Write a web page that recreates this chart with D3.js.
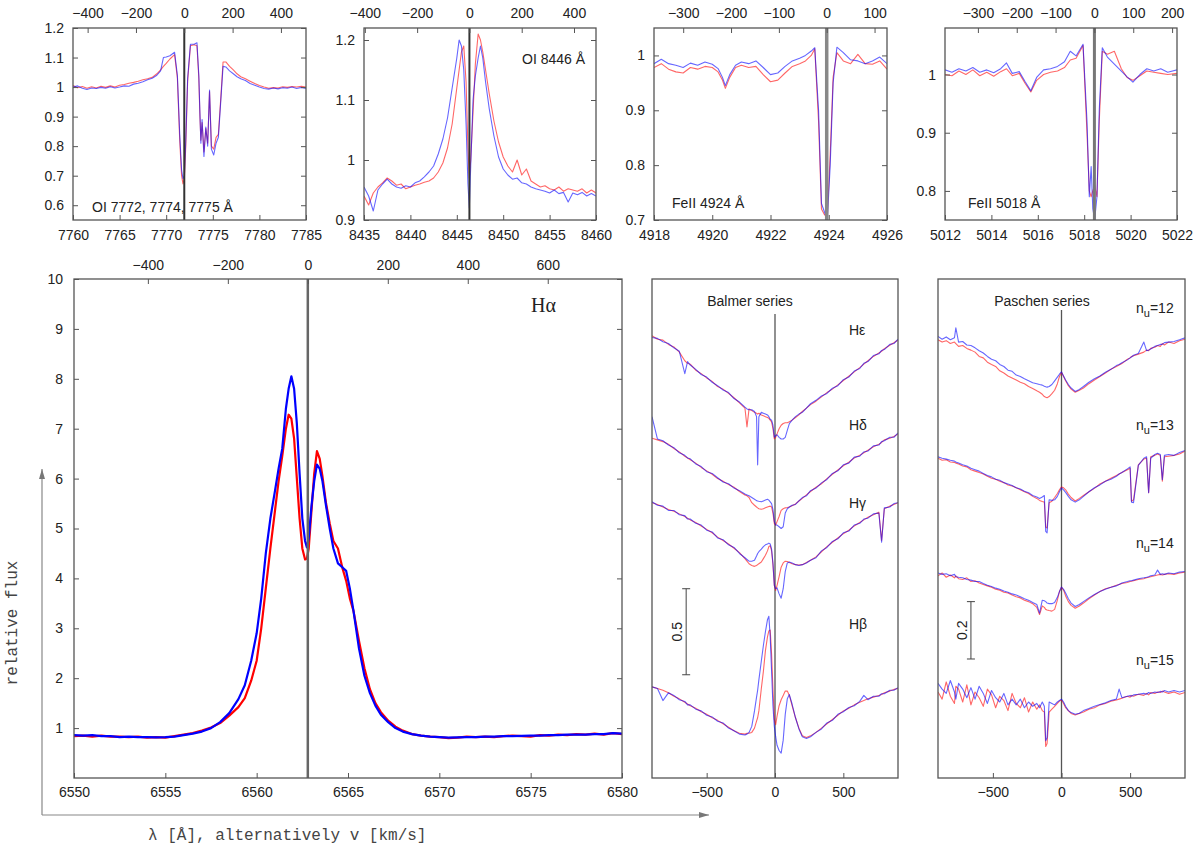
<!DOCTYPE html>
<html>
<head>
<meta charset="utf-8">
<script src="https://cdn.jsdelivr.net/npm/d3@7"></script>
<style>
  body { margin: 0; background: #fff; }
  svg text { font-family: "Liberation Sans", Arial, sans-serif; fill: #222; }
</style>
</head>
<body>
<svg id="fig" width="1200" height="848"></svg>
<script>
/********** the Data **********/
const C_KMS = 299792.458;

// OI 7772 triplet
const oiTripW = [7760, 7760.5, 7761, 7761.5, 7762, 7762.5, 7763, 7763.5, 7764, 7764.5,
  7765, 7765.5, 7766, 7766.5, 7767, 7767.5, 7768, 7768.5, 7769, 7769.4,
  7769.7, 7770, 7770.4, 7770.9, 7771.2, 7771.45, 7771.65, 7771.8, 7771.95, 7772.1,
  7772.3, 7772.6, 7773.0, 7773.3, 7773.5, 7773.62, 7773.72, 7773.85, 7774.05, 7774.25,
  7774.45, 7774.65, 7774.85, 7775.1, 7775.35, 7775.6, 7775.85, 7776.1, 7776.4, 7776.8,
  7777.2, 7777.6, 7778, 7778.5, 7779, 7779.5, 7780, 7780.5, 7781, 7781.5,
  7782, 7782.5, 7783, 7783.5, 7784, 7784.5, 7785];
const oiTripRed = [1.005, 0.998, 1.002, 0.996, 1.001, 0.997, 1.003, 0.999, 1.004, 1.0,
  1.006, 1.009, 1.013, 1.016, 1.02, 1.025, 1.028, 1.033, 1.045, 1.058,
  1.07, 1.08, 1.095, 1.11, 1.03, 0.82, 0.7, 0.672, 0.69, 0.8,
  1.02, 1.14, 1.143, 1.14, 1.03, 0.9, 0.82, 0.88, 0.78, 0.86,
  0.81, 0.985, 0.8, 0.79, 0.83, 0.84, 0.96, 1.085, 1.085, 1.07,
  1.058, 1.045, 1.035, 1.028, 1.02, 1.012, 1.005, 1.0, 0.996, 0.998,
  0.997, 1.001, 0.999, 1.002, 1.0, 1.003, 1.0];
const oiTripBlue = [1.0, 1.004, 0.996, 0.992, 0.997, 0.995, 0.999, 0.996, 1.001, 0.997,
  1.0, 1.004, 1.003, 1.01, 1.013, 1.018, 1.025, 1.03, 1.04, 1.055,
  1.1, 1.102, 1.106, 1.118, 1.04, 0.84, 0.72, 0.69, 0.7, 0.82,
  1.03, 1.145, 1.145, 1.15, 1.04, 0.91, 0.81, 0.89, 0.765, 0.865,
  0.8, 0.99, 0.79, 0.77, 0.81, 0.83, 0.95, 1.07, 1.068, 1.055,
  1.045, 1.035, 1.028, 1.022, 1.012, 1.006, 1.0, 0.995, 0.993, 0.997,
  0.994, 0.998, 0.996, 1.0, 0.995, 0.999, 0.995];

// OI 8446
const oi8446W = [8435, 8435.5, 8436, 8436.5, 8437, 8437.5, 8438, 8438.5, 8439, 8439.5,
  8440, 8440.5, 8441, 8441.5, 8442, 8442.5, 8443, 8443.5, 8444, 8444.5,
  8445, 8445.25, 8445.5, 8445.75, 8446.0, 8446.2, 8446.35, 8446.5, 8446.75, 8447.0,
  8447.3, 8447.55, 8447.8, 8448.1, 8448.5, 8449, 8449.5, 8450, 8450.5, 8451,
  8451.5, 8452, 8452.5, 8453, 8453.5, 8454, 8454.5, 8455, 8455.5, 8456,
  8456.5, 8457, 8457.5, 8458, 8458.5, 8459, 8459.5, 8460];
const oi8446Red = [0.94, 0.925, 0.945, 0.955, 0.962, 0.97, 0.965, 0.958, 0.96, 0.952,
  0.955, 0.958, 0.96, 0.963, 0.965, 0.97, 0.98, 0.995, 1.02, 1.06,
  1.12, 1.15, 1.18, 1.19, 1.13, 1.02, 0.97, 1.0, 1.08, 1.16,
  1.21, 1.2, 1.18, 1.15, 1.11, 1.065, 1.03, 1.005, 0.99, 0.98,
  1.0, 0.975, 0.985, 0.965, 0.96, 0.955, 0.957, 0.952, 0.95, 0.955,
  0.948, 0.952, 0.95, 0.948, 0.952, 0.945, 0.95, 0.945];
const oi8446Blue = [0.955, 0.94, 0.915, 0.95, 0.96, 0.968, 0.96, 0.955, 0.953, 0.957,
  0.955, 0.962, 0.965, 0.972, 0.98, 0.99, 1.01, 1.035, 1.07, 1.12,
  1.17, 1.2, 1.19, 1.15, 1.06, 0.96, 0.92, 0.99, 1.1, 1.14,
  1.17, 1.19, 1.17, 1.13, 1.085, 1.04, 1.005, 0.985, 0.975, 0.968,
  0.97, 0.962, 0.96, 0.955, 0.952, 0.95, 0.948, 0.945, 0.95, 0.944,
  0.946, 0.93, 0.945, 0.942, 0.946, 0.94, 0.944, 0.94];

// FeII 4924
const fe4924W = [4918, 4918.25, 4918.5, 4918.75, 4919, 4919.25, 4919.5, 4919.75, 4920, 4920.2,
  4920.35, 4920.45, 4920.6, 4920.8, 4921, 4921.25, 4921.5, 4921.75, 4922, 4922.25,
  4922.5, 4922.75, 4923, 4923.2, 4923.4, 4923.52, 4923.65, 4923.75, 4923.85, 4923.95,
  4924.05, 4924.15, 4924.28, 4924.5, 4924.75, 4925, 4925.25, 4925.5, 4925.75, 4926];
const fe4924Red = [0.978, 0.985, 0.975, 0.97, 0.968, 0.978, 0.975, 0.98, 0.978, 0.97,
  0.955, 0.94, 0.96, 0.978, 0.982, 0.978, 0.98, 0.965, 0.952, 0.955,
  0.968, 0.98, 0.985, 0.99, 1.0, 1.012, 0.88, 0.72, 0.71, 0.705,
  0.82, 0.96, 1.005, 0.99, 0.985, 1.002, 0.985, 0.984, 0.99, 0.975];
const fe4924Blue = [0.985, 0.993, 0.985, 0.982, 0.978, 0.986, 0.982, 0.988, 0.984, 0.976,
  0.96, 0.945, 0.965, 0.982, 0.988, 0.985, 0.99, 0.978, 0.965, 0.968,
  0.98, 0.99, 0.995, 1.0, 1.008, 1.014, 0.9, 0.73, 0.715, 0.7,
  0.8, 0.95, 1.015, 1.005, 0.992, 0.99, 0.985, 0.99, 0.997, 0.985];

// FeII 5018
const fe5018W = [5012, 5012.3, 5012.6, 5012.9, 5013.2, 5013.5, 5013.8, 5014.1, 5014.4, 5014.65,
  5014.9, 5015.2, 5015.45, 5015.7, 5015.95, 5016.25, 5016.55, 5016.85, 5017.15, 5017.4,
  5017.65, 5017.95, 5018.12, 5018.22, 5018.3, 5018.37, 5018.45, 5018.55, 5018.65, 5018.78,
  5019.0, 5019.3, 5019.6, 5019.85, 5020.1, 5020.4, 5020.7, 5021.0, 5021.3, 5021.6,
  5022];
const fe5018Red = [1.0, 0.998, 1.006, 1.0, 1.008, 0.998, 1.004, 0.997, 1.005, 1.01,
  0.998, 1.002, 0.985, 0.97, 0.99, 1.0, 1.004, 1.006, 1.012, 1.025,
  1.028, 1.05, 0.9, 0.8, 0.79, 0.8, 0.81, 0.79, 0.92, 1.04,
  1.035, 1.04, 1.01, 0.995, 0.99, 0.998, 1.006, 1.004, 1.002, 1.0,
  1.002];
const fe5018Blue = [1.008, 1.004, 1.01, 1.006, 1.012, 1.004, 1.008, 1.003, 1.01, 1.02,
  1.002, 1.005, 0.988, 0.972, 0.995, 1.008, 1.01, 1.014, 1.022, 1.04,
  1.032, 1.052, 0.92, 0.79, 0.842, 0.77, 0.75, 0.79, 0.94, 1.046,
  1.03, 1.018, 1.006, 0.996, 0.987, 1.0, 1.01, 1.006, 1.01, 1.004,
  1.008];

// H alpha
const haW = [6550, 6550.5, 6551, 6551.5, 6552, 6552.5, 6553, 6553.5, 6554, 6554.5,
  6555, 6555.5, 6556, 6556.5, 6557, 6557.5, 6558, 6558.5, 6559, 6559.35,
  6559.7, 6560.0, 6560.25, 6560.5, 6560.75, 6561.0, 6561.2, 6561.4, 6561.6, 6561.75,
  6561.9, 6562.05, 6562.2, 6562.35, 6562.5, 6562.65, 6562.75, 6562.85, 6563.0, 6563.15,
  6563.3, 6563.45, 6563.6, 6563.8, 6564.0, 6564.2, 6564.45, 6564.7, 6564.9, 6565.1,
  6565.3, 6565.6, 6565.9, 6566.2, 6566.5, 6566.8, 6567.2, 6567.6, 6568.0, 6568.5,
  6569, 6569.5, 6570, 6570.5, 6571, 6571.5, 6572, 6572.5, 6573, 6573.5,
  6574, 6574.5, 6575, 6575.5, 6576, 6576.5, 6577, 6577.5, 6578, 6578.5,
  6579, 6579.5, 6580];
const haRed = [0.84, 0.85, 0.83, 0.85, 0.83, 0.83, 0.82, 0.83, 0.81, 0.82,
  0.81, 0.84, 0.87, 0.9, 0.95, 1.01, 1.1, 1.25, 1.42, 1.6,
  1.95, 2.35, 3.0, 3.8, 4.6, 5.35, 5.95, 6.45, 7.0, 7.28,
  7.2, 6.8, 6.0, 5.2, 4.6, 4.38, 4.4, 4.6, 5.35, 6.1,
  6.55, 6.4, 6.05, 5.5, 5.1, 4.75, 4.6, 4.2, 3.95, 3.6,
  3.35, 2.75, 2.2, 1.78, 1.5, 1.32, 1.15, 1.03, 0.95, 0.88,
  0.85, 0.83, 0.82, 0.8, 0.81, 0.83, 0.82, 0.83, 0.82, 0.84,
  0.85, 0.84, 0.83, 0.86, 0.85, 0.87, 0.86, 0.88, 0.87, 0.89,
  0.87, 0.9, 0.88];
const haBlue = [0.86, 0.85, 0.86, 0.84, 0.84, 0.82, 0.83, 0.82, 0.82, 0.815,
  0.82, 0.83, 0.86, 0.89, 0.93, 1.0, 1.12, 1.3, 1.58, 1.86,
  2.35, 2.9, 3.6, 4.5, 5.2, 5.75, 6.2, 6.6, 7.4, 7.8,
  8.05, 7.8, 7.1, 6.1, 5.2, 4.75, 4.62, 4.8, 5.45, 5.95,
  6.28, 6.2, 5.95, 5.45, 5.0, 4.6, 4.3, 4.22, 4.15, 3.8,
  3.35, 2.6, 2.05, 1.7, 1.45, 1.27, 1.12, 1.0, 0.93, 0.88,
  0.85, 0.83, 0.82, 0.81, 0.815, 0.82, 0.82, 0.83, 0.83, 0.84,
  0.84, 0.845, 0.85, 0.85, 0.86, 0.86, 0.87, 0.87, 0.87, 0.88,
  0.88, 0.9, 0.89];

// Balmer series, velocity grid (km/s) and relative flux
const balmerV = [-900, -860, -820, -780, -740, -700, -660, -640, -620, -580,
  -540, -500, -460, -420, -380, -340, -300, -260, -220, -205,
  -190, -170, -150, -135, -127, -118, -100, -85, -70, -55,
  -45, -35, -25, -15, -5, 5, 15, 30, 45, 60,
  75, 90, 105, 125, 150, 175, 200, 230, 260, 300,
  340, 380, 420, 460, 500, 540, 580, 620, 650, 680,
  720, 760, 780, 800, 840, 870, 900];
const balmerNames = ["Hε", "Hδ", "Hγ", "Hβ"];
const balmerOffsets = [1.55, 1.0, 0.6, -0.48];
const balmerRed = [
  [1.02, 1.0, 0.995, 0.97, 0.955, 0.925, 0.875, 0.86, 0.855, 0.82,
   0.8, 0.775, 0.755, 0.725, 0.71, 0.685, 0.66, 0.63, 0.6, 0.49,
   0.595, 0.585, 0.575, 0.57, 0.565, 0.57, 0.56, 0.555, 0.55, 0.545,
   0.54, 0.53, 0.52, 0.48, 0.42, 0.43, 0.45, 0.48, 0.5, 0.51,
   0.515, 0.515, 0.52, 0.53, 0.545, 0.56, 0.58, 0.6, 0.62, 0.64,
   0.665, 0.69, 0.71, 0.735, 0.76, 0.785, 0.81, 0.835, 0.855, 0.875,
   0.9, 0.92, 0.93, 0.945, 0.965, 0.98, 0.995],
  [0.975, 0.965, 0.955, 0.94, 0.915, 0.895, 0.87, 0.86, 0.85, 0.83,
   0.805, 0.785, 0.765, 0.74, 0.725, 0.705, 0.69, 0.665, 0.645, 0.64,
   0.63, 0.6, 0.585, 0.575, 0.57, 0.565, 0.562, 0.565, 0.57, 0.575,
   0.578, 0.58, 0.575, 0.54, 0.48, 0.47, 0.49, 0.52, 0.555, 0.565,
   0.57, 0.572, 0.575, 0.582, 0.593, 0.61, 0.625, 0.645, 0.665, 0.69,
   0.71, 0.74, 0.765, 0.79, 0.815, 0.835, 0.86, 0.875, 0.89, 0.905,
   0.925, 0.94, 0.95, 0.965, 0.975, 0.985, 1.0],
  [1.0, 0.99, 0.975, 0.96, 0.95, 0.935, 0.92, 0.91, 0.9, 0.885,
   0.865, 0.845, 0.825, 0.8, 0.78, 0.76, 0.735, 0.71, 0.675, 0.66,
   0.645, 0.635, 0.63, 0.635, 0.64, 0.645, 0.655, 0.675, 0.695, 0.72,
   0.745, 0.75, 0.72, 0.64, 0.52, 0.49, 0.52, 0.57, 0.625, 0.65,
   0.66, 0.658, 0.652, 0.645, 0.64, 0.638, 0.64, 0.652, 0.665, 0.685,
   0.715, 0.745, 0.77, 0.795, 0.82, 0.84, 0.865, 0.885, 0.9, 0.915,
   0.93, 0.945, 0.78, 0.965, 0.98, 0.99, 1.0],
  [1.01, 1.0, 0.99, 0.975, 0.955, 0.94, 0.92, 0.91, 0.9, 0.885,
   0.865, 0.85, 0.83, 0.815, 0.795, 0.775, 0.755, 0.74, 0.735, 0.74,
   0.74, 0.745, 0.77, 0.81, 0.83, 0.87, 1.0, 1.1, 1.22, 1.3,
   1.335, 1.34, 1.2, 1.0, 0.82, 0.79, 0.84, 0.9, 0.935, 0.96,
   0.985, 0.985, 0.96, 0.9, 0.83, 0.77, 0.725, 0.715, 0.725, 0.745,
   0.77, 0.795, 0.82, 0.845, 0.87, 0.885, 0.905, 0.92, 0.93, 0.94,
   0.95, 0.96, 0.965, 0.975, 0.985, 0.995, 1.0]
];
const balmerBlue = [
  [1.01, 1.005, 0.985, 0.975, 0.95, 0.93, 0.8, 0.87, 0.85, 0.825,
   0.795, 0.78, 0.75, 0.73, 0.705, 0.69, 0.655, 0.635, 0.605, 0.595,
   0.59, 0.59, 0.58, 0.55, 0.27, 0.55, 0.575, 0.57, 0.565, 0.56,
   0.55, 0.535, 0.53, 0.5, 0.43, 0.44, 0.445, 0.43, 0.42, 0.42,
   0.43, 0.47, 0.51, 0.53, 0.55, 0.565, 0.575, 0.6, 0.625, 0.645,
   0.67, 0.685, 0.715, 0.73, 0.765, 0.78, 0.815, 0.83, 0.86, 0.87,
   0.905, 0.915, 0.935, 0.94, 0.97, 0.975, 1.0],
  [1.1, 0.97, 0.96, 0.935, 0.92, 0.89, 0.875, 0.86, 0.855, 0.825,
   0.81, 0.78, 0.77, 0.745, 0.72, 0.71, 0.685, 0.67, 0.65, 0.645,
   0.64, 0.63, 0.62, 0.612, 0.61, 0.608, 0.605, 0.61, 0.615, 0.62,
   0.615, 0.605, 0.595, 0.56, 0.49, 0.47, 0.47, 0.46, 0.45, 0.46,
   0.54, 0.565, 0.575, 0.585, 0.59, 0.61, 0.63, 0.64, 0.67, 0.685,
   0.715, 0.735, 0.77, 0.785, 0.82, 0.83, 0.865, 0.87, 0.895, 0.9,
   0.93, 0.935, 0.955, 0.96, 0.98, 0.98, 1.005],
  [1.005, 0.985, 0.98, 0.955, 0.955, 0.93, 0.925, 0.905, 0.905, 0.88,
   0.87, 0.84, 0.83, 0.795, 0.785, 0.755, 0.74, 0.705, 0.68, 0.67,
   0.66, 0.66, 0.665, 0.69, 0.705, 0.715, 0.73, 0.745, 0.755, 0.76,
   0.765, 0.76, 0.73, 0.65, 0.52, 0.5, 0.505, 0.47, 0.445, 0.5,
   0.6, 0.65, 0.655, 0.65, 0.64, 0.635, 0.64, 0.65, 0.665, 0.68,
   0.72, 0.74, 0.775, 0.79, 0.825, 0.835, 0.87, 0.88, 0.905, 0.91,
   0.935, 0.94, 0.77, 0.97, 0.975, 0.995, 1.0],
  [1.01, 1.0, 0.93, 0.975, 0.96, 0.935, 0.925, 0.905, 0.905, 0.88,
   0.87, 0.845, 0.835, 0.81, 0.8, 0.77, 0.755, 0.735, 0.73, 0.735,
   0.745, 0.78, 0.87, 0.95, 0.99, 1.05, 1.16, 1.25, 1.33, 1.4,
   1.42, 1.3, 1.1, 0.9, 0.78, 0.72, 0.67, 0.64, 0.625, 0.7,
   0.85, 0.94, 0.965, 0.91, 0.83, 0.765, 0.72, 0.71, 0.72, 0.745,
   0.765, 0.8, 0.815, 0.85, 0.865, 0.89, 0.9, 0.925, 0.96, 0.935,
   0.955, 0.955, 0.97, 0.97, 0.99, 0.99, 1.005]
];

// Paschen series, velocity grid (km/s) and relative flux
const paschenV = [-900, -870, -840, -810, -780, -770, -750, -720, -690, -660,
  -630, -600, -570, -540, -510, -480, -450, -420, -390, -360,
  -330, -300, -270, -240, -210, -180, -160, -140, -125, -115,
  -105, -90, -70, -50, -30, -15, 0, 15, 30, 50,
  70, 100, 130, 160, 200, 240, 280, 320, 360, 400,
  420, 440, 480, 500, 510, 525, 560, 600, 620, 635,
  650, 680, 700, 720, 735, 750, 780, 820, 860, 900];
const paschenNames = ["12", "13", "14", "15"];
const paschenOffsets = [0.53, 0.13, -0.28, -0.69];
const paschenRed = [
  [0.998, 0.99, 0.995, 0.985, 0.99, 0.985, 0.975, 0.978, 0.968, 0.962,
   0.955, 0.94, 0.935, 0.92, 0.912, 0.905, 0.89, 0.882, 0.872, 0.865,
   0.858, 0.85, 0.845, 0.835, 0.828, 0.82, 0.815, 0.808, 0.8, 0.798,
   0.796, 0.8, 0.81, 0.822, 0.845, 0.87, 0.885, 0.87, 0.855, 0.838,
   0.826, 0.815, 0.822, 0.83, 0.845, 0.858, 0.87, 0.882, 0.895, 0.905,
   0.91, 0.915, 0.93, 0.935, 0.94, 0.942, 0.948, 0.955, 0.962, 0.96,
   0.968, 0.972, 0.978, 0.975, 0.985, 0.98, 0.99, 0.985, 0.995, 1.0],
  [0.985, 0.978, 0.98, 0.972, 0.97, 0.968, 0.965, 0.958, 0.955, 0.945,
   0.94, 0.935, 0.93, 0.922, 0.915, 0.912, 0.905, 0.9, 0.892, 0.888,
   0.882, 0.875, 0.868, 0.862, 0.852, 0.845, 0.838, 0.834, 0.832, 0.745,
   0.742, 0.83, 0.835, 0.848, 0.862, 0.875, 0.885, 0.882, 0.875, 0.86,
   0.848, 0.836, 0.845, 0.855, 0.868, 0.88, 0.895, 0.905, 0.915, 0.925,
   0.93, 0.935, 0.945, 0.95, 0.835, 0.84, 0.962, 0.982, 0.985, 0.865,
   0.99, 0.995, 1.0, 0.995, 0.905, 0.99, 0.992, 0.995, 1.0, 1.01],
  [0.985, 0.995, 0.98, 0.988, 0.978, 0.985, 0.975, 0.972, 0.978, 0.965,
   0.968, 0.96, 0.955, 0.95, 0.945, 0.938, 0.935, 0.928, 0.925, 0.918,
   0.912, 0.908, 0.9, 0.895, 0.888, 0.875, 0.85, 0.88, 0.875, 0.868,
   0.866, 0.864, 0.862, 0.868, 0.9, 0.93, 0.945, 0.935, 0.915, 0.895,
   0.882, 0.872, 0.88, 0.89, 0.905, 0.918, 0.93, 0.94, 0.945, 0.952,
   0.955, 0.958, 0.962, 0.965, 0.966, 0.968, 0.972, 0.975, 0.978, 0.98,
   0.982, 0.985, 0.988, 0.99, 0.988, 0.99, 0.992, 0.99, 0.995, 0.998],
  [0.99, 0.965, 1.025, 0.975, 0.95, 1.01, 1.0, 0.955, 1.015, 0.945,
   0.99, 0.97, 0.94, 1.0, 0.98, 0.935, 0.975, 0.96, 0.925, 0.985,
   0.95, 0.935, 0.97, 0.92, 0.955, 0.93, 0.945, 0.925, 0.92, 0.8,
   0.81, 0.92, 0.93, 0.94, 0.95, 0.958, 0.962, 0.95, 0.935, 0.925,
   0.915, 0.91, 0.915, 0.92, 0.93, 0.935, 0.945, 0.95, 0.958, 0.962,
   0.965, 0.968, 0.975, 0.972, 0.978, 0.975, 0.982, 0.978, 0.985, 0.98,
   0.988, 0.985, 0.99, 0.988, 0.993, 0.99, 0.985, 0.99, 0.982, 0.988]
];
const paschenBlue = [
  [1.01, 1.0, 1.008, 0.998, 1.005, 1.04, 0.99, 0.992, 0.98, 0.978,
   0.97, 0.96, 0.952, 0.94, 0.93, 0.925, 0.912, 0.905, 0.892, 0.888,
   0.875, 0.87, 0.862, 0.855, 0.848, 0.845, 0.842, 0.84, 0.836, 0.834,
   0.833, 0.835, 0.842, 0.855, 0.868, 0.878, 0.886, 0.872, 0.858, 0.842,
   0.83, 0.818, 0.825, 0.835, 0.85, 0.862, 0.872, 0.885, 0.895, 0.908,
   0.912, 0.918, 0.928, 0.935, 0.938, 0.944, 0.95, 0.99, 0.96, 0.962,
   0.966, 0.975, 0.978, 0.982, 0.982, 0.988, 0.99, 0.992, 0.998, 1.005],
  [0.99, 0.985, 0.982, 0.978, 0.975, 0.972, 0.968, 0.962, 0.958, 0.95,
   0.945, 0.94, 0.932, 0.925, 0.92, 0.912, 0.908, 0.9, 0.895, 0.89,
   0.882, 0.878, 0.87, 0.865, 0.855, 0.85, 0.845, 0.85, 0.855, 0.73,
   0.725, 0.84, 0.838, 0.84, 0.852, 0.868, 0.882, 0.875, 0.866, 0.852,
   0.84, 0.832, 0.84, 0.852, 0.868, 0.882, 0.892, 0.905, 0.912, 0.922,
   0.93, 0.935, 0.948, 0.955, 0.832, 0.83, 0.96, 0.985, 0.99, 0.865,
   0.985, 0.998, 1.002, 0.998, 0.91, 0.995, 0.998, 0.995, 1.005, 1.012],
  [0.995, 0.99, 0.992, 0.985, 0.99, 0.982, 0.98, 0.978, 0.972, 0.97,
   0.965, 0.965, 0.958, 0.952, 0.948, 0.942, 0.938, 0.932, 0.928, 0.922,
   0.918, 0.912, 0.905, 0.9, 0.892, 0.885, 0.855, 0.9, 0.898, 0.895,
   0.89, 0.888, 0.888, 0.892, 0.91, 0.93, 0.946, 0.938, 0.925, 0.905,
   0.89, 0.878, 0.885, 0.895, 0.908, 0.92, 0.93, 0.938, 0.945, 0.95,
   0.955, 0.96, 0.965, 0.968, 0.968, 0.97, 0.975, 0.978, 0.98, 0.982,
   0.985, 0.988, 1.005, 0.99, 0.992, 0.99, 0.995, 0.992, 0.998, 1.0],
  [1.02, 1.0, 0.985, 1.03, 0.99, 0.965, 1.02, 1.0, 0.97, 1.005,
   0.965, 1.01, 0.985, 0.95, 0.995, 0.97, 0.955, 0.985, 0.945, 0.965,
   0.945, 0.965, 0.935, 0.955, 0.94, 0.95, 0.935, 0.955, 0.94, 0.82,
   0.83, 0.955, 0.95, 0.945, 0.955, 0.96, 0.965, 0.955, 0.94, 0.925,
   0.918, 0.912, 0.916, 0.925, 0.932, 0.94, 0.946, 0.952, 0.96, 0.965,
   1.0, 0.97, 0.975, 0.978, 0.975, 0.98, 0.982, 0.985, 0.982, 0.988,
   0.985, 0.99, 0.988, 0.992, 0.99, 0.995, 0.99, 0.995, 0.99, 0.995]
];

/********** drawing **********/
const svg = d3.select("#fig");
const FONT = '"Liberation Sans", Arial, sans-serif';
const SERIF = '"Liberation Serif", "DejaVu Serif", serif';
const MONO = '"Liberation Mono", "Courier New", monospace';
const AXIS_COL = "#555";
let clipCount = 0;

function styleAxis(sel) {
  sel.select(".domain").remove();
  sel.selectAll(".tick line").attr("stroke", AXIS_COL);
  sel.selectAll(".tick text")
    .attr("font-size", 14)
    .attr("fill", "#222");
  sel.attr("font-family", null).attr("font-size", null);
}

function addClip(g, left, top, width, height) {
  const id = "clip" + (clipCount++);
  g.append("clipPath").attr("id", id)
    .append("rect").attr("x", left).attr("y", top).attr("width", width).attr("height", height);
  return "url(#" + id + ")";
}

function frame(g, left, top, right, bottom) {
  g.append("rect")
    .attr("x", left).attr("y", top)
    .attr("width", right - left).attr("height", bottom - top)
    .attr("fill", "none").attr("stroke", AXIS_COL).attr("stroke-width", 1.3);
}

const tickFmt = d => String(+d.toFixed(2));

/***** panel with wavelength axis and velocity axis on top *****/
function linePanel(p) {
  const g = svg.append("g");
  const x = d3.scaleLinear().domain(p.xDomain).range([p.left, p.right]);
  const y = d3.scaleLinear().domain(p.yDomain).range([p.bottom, p.top]);
  const vel = d3.scaleLinear()
    .domain(p.xDomain.map(l => C_KMS * (l - p.lam0) / p.lam0))
    .range([p.left, p.right]);
  const clip = addClip(g, p.left, p.top, p.right - p.left, p.bottom - p.top);

  const line = d3.line().x(d => x(d[0])).y(d => y(d[1]));
  p.series.forEach(s => {
    g.append("path")
      .datum(d3.zip(s.x, s.y))
      .attr("clip-path", clip)
      .attr("d", line)
      .attr("fill", "none")
      .attr("stroke", s.color)
      .attr("stroke-width", s.width)
      .attr("stroke-opacity", s.opacity)
      .attr("stroke-linejoin", "round");
  });

  // rest wavelength
  g.append("line")
    .attr("x1", x(p.lam0)).attr("x2", x(p.lam0))
    .attr("y1", p.top).attr("y2", p.bottom)
    .attr("stroke", p.restColor).attr("stroke-width", p.restWidth);

  g.append("g").attr("transform", `translate(0,${p.bottom})`)
    .call(d3.axisBottom(x).tickValues(p.xTicks).tickFormat(d3.format("d"))
      .tickSizeInner(-5).tickSizeOuter(0).tickPadding(p.padX))
    .call(styleAxis);
  g.append("g").attr("transform", `translate(0,${p.top})`)
    .call(d3.axisTop(vel).tickValues(p.velTicks).tickFormat(d3.format("d"))
      .tickSizeInner(-5).tickSizeOuter(0).tickPadding(p.padV))
    .call(styleAxis);
  g.append("g").attr("transform", `translate(${p.left},0)`)
    .call(d3.axisLeft(y).tickValues(p.yTicks).tickFormat(tickFmt)
      .tickSizeInner(-5).tickSizeOuter(0).tickPadding(p.padY))
    .call(styleAxis);
  g.append("g").attr("transform", `translate(${p.right},0)`)
    .call(d3.axisRight(y).tickValues(p.yTicks).tickFormat("")
      .tickSizeInner(-5).tickSizeOuter(0))
    .call(styleAxis);

  frame(g, p.left, p.top, p.right, p.bottom);

  if (p.label) {
    g.append("text")
      .attr("x", p.label.x).attr("y", p.label.y)
      .attr("font-size", p.label.size || 14)
      .style("font-family", p.label.font || FONT)
      .text(p.label.text);
  }
}

const RED = "#ff0000", BLUE = "#0000ff";
function pair(w, r, b, width, opacity) {
  return [
    {x: w, y: r, color: RED, width: width, opacity: opacity},
    {x: w, y: b, color: BLUE, width: width, opacity: opacity}
  ];
}

linePanel({
  left: 73, right: 306, top: 28, bottom: 220,
  xDomain: [7760, 7785], yDomain: [0.55, 1.2], lam0: 7771.94,
  xTicks: d3.range(7760, 7786, 5), yTicks: [0.6, 0.7, 0.8, 0.9, 1, 1.1, 1.2],
  velTicks: [-400, -200, 0, 200, 400],
  padX: 10, padV: 10, padY: 9,
  restColor: "#333", restWidth: 2,
  series: pair(oiTripW, oiTripRed, oiTripBlue, 1.1, 0.6),
  label: {x: 92, y: 212, text: "OI 7772, 7774, 7775 Å"}
});

linePanel({
  left: 364, right: 596, top: 28, bottom: 220,
  xDomain: [8435, 8460], yDomain: [0.9, 1.22], lam0: 8446.36,
  xTicks: d3.range(8435, 8461, 5), yTicks: [0.9, 1, 1.1, 1.2],
  velTicks: [-400, -200, 0, 200, 400],
  padX: 10, padV: 10, padY: 9,
  restColor: "#333", restWidth: 2,
  series: pair(oi8446W, oi8446Red, oi8446Blue, 1.1, 0.6),
  label: {x: 522, y: 64, text: "OI 8446 Å"}
});

linePanel({
  left: 654, right: 887, top: 28, bottom: 220,
  xDomain: [4918, 4926], yDomain: [0.7, 1.05], lam0: 4923.93,
  xTicks: d3.range(4918, 4927, 2), yTicks: [0.7, 0.8, 0.9, 1],
  velTicks: [-300, -200, -100, 0, 100],
  padX: 10, padV: 10, padY: 9,
  restColor: "#888", restWidth: 3.5,
  series: pair(fe4924W, fe4924Red, fe4924Blue, 1.1, 0.6),
  label: {x: 672, y: 208, text: "FeII 4924 Å"}
});

linePanel({
  left: 945, right: 1177, top: 28, bottom: 220,
  xDomain: [5012, 5022], yDomain: [0.75, 1.08], lam0: 5018.44,
  xTicks: d3.range(5012, 5023, 2), yTicks: [0.8, 0.9, 1],
  velTicks: [-300, -200, -100, 0, 100, 200],
  padX: 10, padV: 10, padY: 9,
  restColor: "#777", restWidth: 3,
  series: pair(fe5018W, fe5018Red, fe5018Blue, 1.1, 0.6),
  label: {x: 968, y: 208, text: "FeII 5018 Å"}
});

linePanel({
  left: 74, right: 622, top: 279, bottom: 778,
  xDomain: [6550, 6580], yDomain: [0, 10], lam0: 6562.8,
  xTicks: d3.range(6550, 6581, 5), yTicks: d3.range(1, 11),
  velTicks: [-400, -200, 0, 200, 400, 600],
  padX: 9, padV: 9, padY: 11,
  restColor: "#666", restWidth: 2.5,
  series: pair(haW, haRed, haBlue, 2.2, 1),
  label: {x: 531, y: 312, text: "Hα", font: SERIF, size: 20}
});

/***** stacked velocity panels (Balmer, Paschen) *****/
function stackPanel(p) {
  const g = svg.append("g");
  const x = d3.scaleLinear().domain([-900, 900]).range([p.left, p.right]);
  const y = d3.scaleLinear().domain(p.yDomain).range([p.bottom, p.top]);
  const clip = addClip(g, p.left, p.top, p.right - p.left, p.bottom - p.top);

  g.append("line")
    .attr("x1", x(0)).attr("x2", x(0))
    .attr("y1", p.lineTop).attr("y2", p.bottom)
    .attr("stroke", "#555").attr("stroke-width", 1.3);

  p.offsets.forEach((off, i) => {
    const line = d3.line().x((d, k) => x(p.v[k])).y(d => y(d + off));
    [[p.red[i], RED], [p.blue[i], BLUE]].forEach(([vals, col]) => {
      g.append("path")
        .datum(vals)
        .attr("clip-path", clip)
        .attr("d", line)
        .attr("fill", "none")
        .attr("stroke", col)
        .attr("stroke-width", 1.1)
        .attr("stroke-opacity", 0.6)
        .attr("stroke-linejoin", "round");
    });
  });

  g.append("g").attr("transform", `translate(0,${p.bottom})`)
    .call(d3.axisBottom(x).tickValues([-500, 0, 500]).tickFormat(d3.format("d"))
      .tickSizeInner(-5).tickSizeOuter(0).tickPadding(9))
    .call(styleAxis);

  frame(g, p.left, p.top, p.right, p.bottom);

  g.append("text")
    .attr("x", p.titleX).attr("y", p.top + 27)
    .attr("text-anchor", "middle").attr("font-size", 14)
    .text(p.title);

  // scale bar
  const bx = x(p.bar.v), y0 = y(p.bar.from), y1 = y(p.bar.from + p.bar.len);
  g.append("line").attr("x1", bx).attr("x2", bx).attr("y1", y0).attr("y2", y1)
    .attr("stroke", "#444").attr("stroke-width", 1);
  [y0, y1].forEach(yy => g.append("line")
    .attr("x1", bx - 4).attr("x2", bx + 4).attr("y1", yy).attr("y2", yy)
    .attr("stroke", "#444").attr("stroke-width", 1));
  g.append("text")
    .attr("transform", `translate(${bx - 4},${(y0 + y1) / 2}) rotate(-90)`)
    .attr("text-anchor", "middle").attr("font-size", 14)
    .text(String(p.bar.len));

  p.labels.forEach((lab, i) => {
    const t = g.append("text")
      .attr("x", p.labelX).attr("y", p.labelY[i])
      .attr("font-size", 14);
    if (p.subscript) {
      t.append("tspan").text("n");
      t.append("tspan").attr("dy", 4).attr("font-size", 11).text("u");
      t.append("tspan").attr("dy", -4).text("=" + lab);
    } else {
      t.text(lab);
    }
  });
}

stackPanel({
  left: 652, right: 898, top: 279, bottom: 778, lineTop: 314,
  yDomain: [0, 2.9], v: balmerV, red: balmerRed, blue: balmerBlue,
  offsets: balmerOffsets, labels: balmerNames,
  labelX: 849, labelY: [335, 430, 508, 629],
  title: "Balmer series", titleX: 750,
  bar: {v: -650, from: 0.6, len: 0.5}
});

stackPanel({
  left: 938, right: 1185, top: 279, bottom: 778, lineTop: 310,
  yDomain: [0, 1.74], v: paschenV, red: paschenRed, blue: paschenBlue,
  offsets: paschenOffsets, labels: paschenNames, subscript: true,
  labelX: 1136, labelY: [313, 430, 548, 665],
  title: "Paschen series", titleX: 1042,
  bar: {v: -660, from: 0.415, len: 0.2}
});

/***** outer axis arrows and labels *****/
const defs = svg.append("defs");
defs.append("marker").attr("id", "arrow")
  .attr("viewBox", "0 0 10 6").attr("refX", 10).attr("refY", 3)
  .attr("markerWidth", 10).attr("markerHeight", 6)
  .attr("markerUnits", "userSpaceOnUse").attr("orient", "auto")
  .append("path").attr("d", "M0,0 L10,3 L0,6 Z").attr("fill", "#777");

svg.append("line").attr("x1", 42).attr("y1", 815).attr("x2", 42).attr("y2", 469)
  .attr("stroke", "#888").attr("stroke-width", 1.2).attr("marker-end", "url(#arrow)");
svg.append("line").attr("x1", 42).attr("y1", 815).attr("x2", 709).attr("y2", 815)
  .attr("stroke", "#888").attr("stroke-width", 1.2).attr("marker-end", "url(#arrow)");

svg.append("text")
  .attr("transform", "translate(17,623) rotate(-90)")
  .attr("text-anchor", "middle")
  .attr("font-size", 16)
  .style("font-family", MONO).style("fill", "#444")
  .text("relative flux");

svg.append("text")
  .attr("x", 148).attr("y", 840)
  .attr("font-size", 16)
  .style("font-family", MONO).style("fill", "#444")
  .text("λ [Å], alternatively v [km/s]");
</script>
</body>
</html>
